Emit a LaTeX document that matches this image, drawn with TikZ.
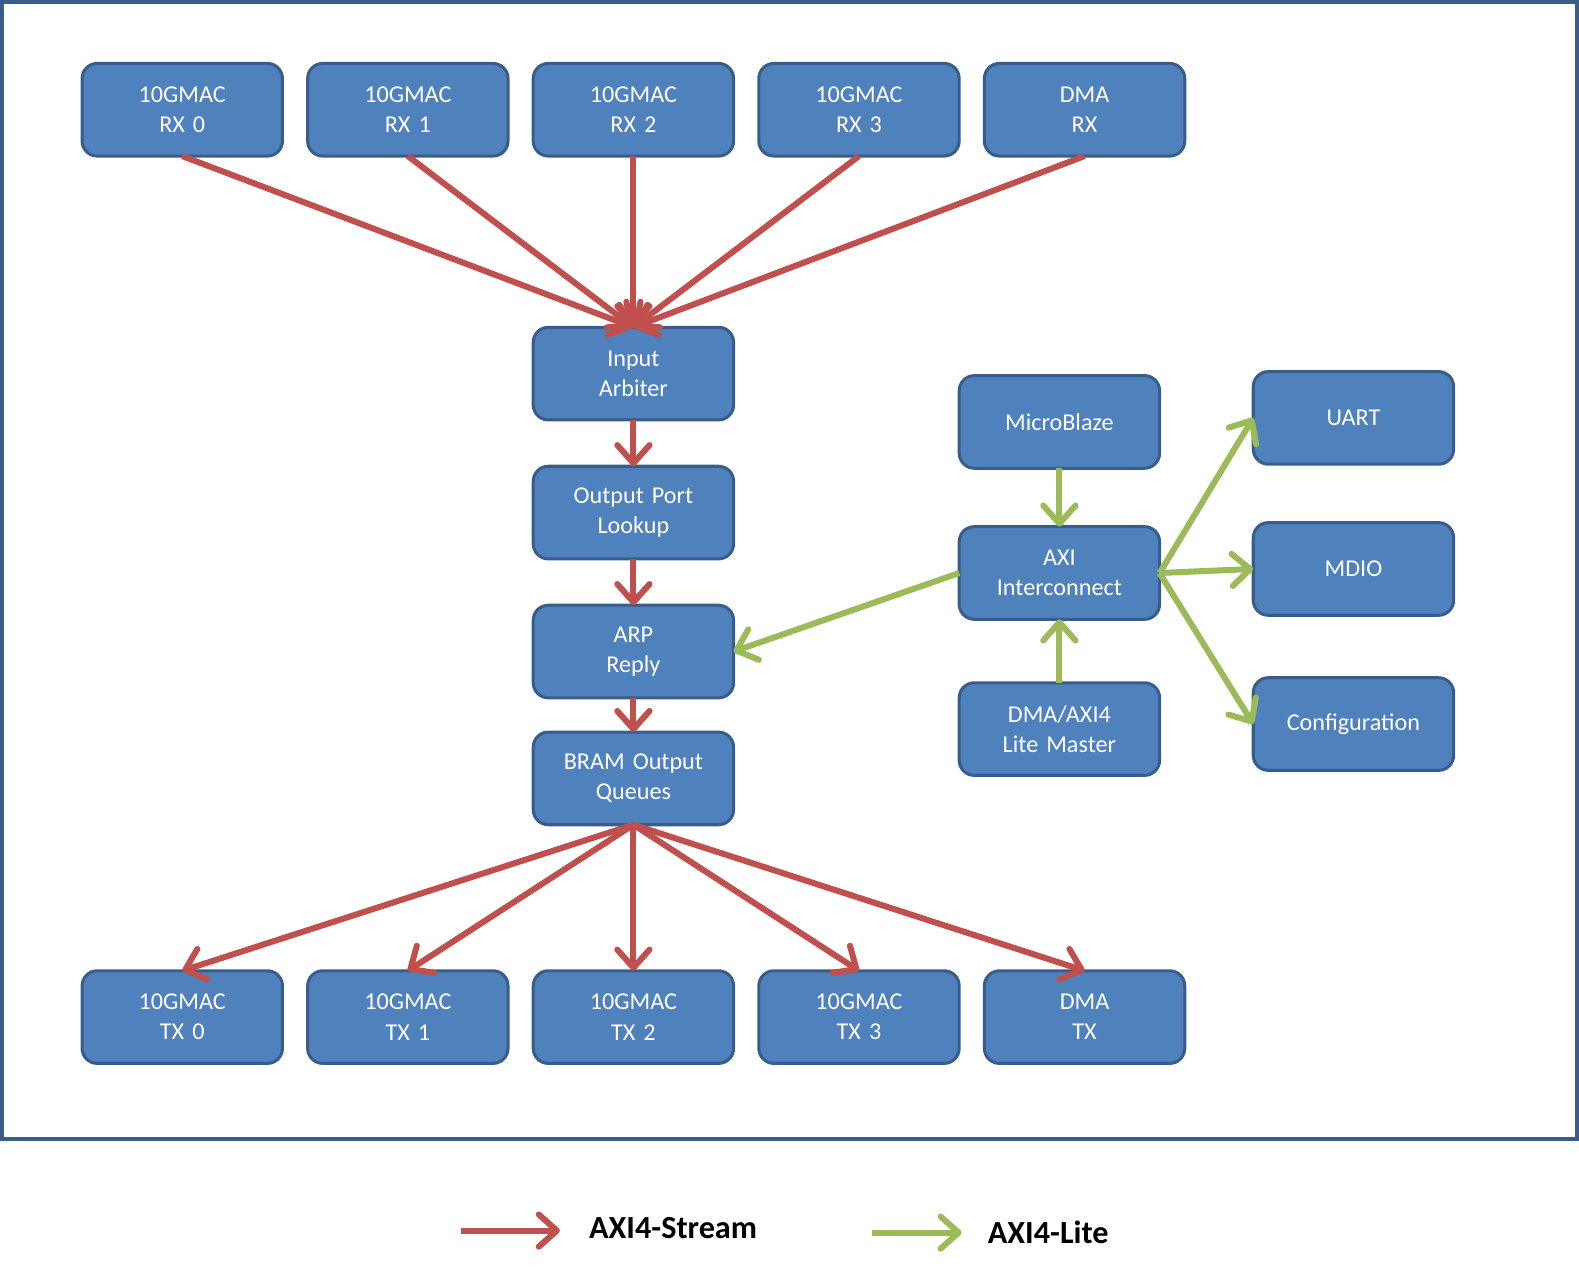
\documentclass[tikz,border=0pt]{standalone}
\usepackage{fontspec}
\setmainfont{Carlito}
\usetikzlibrary{arrows.meta, positioning}
\definecolor{boxfill}{RGB}{79, 129, 189}
\definecolor{boxline}{RGB}{56, 93, 138}
\definecolor{streamred}{RGB}{192, 80, 77}
\definecolor{litegreen}{RGB}{155, 187, 89}

\begin{document}
\begin{tikzpicture}[
    x=0.5pt, y=-0.5pt,
    node distance=12.5pt and 12.5pt,
    block/.style={rectangle, draw=boxline, fill=boxfill, line width=1.5pt, rounded corners=7.5pt, minimum width=99.5pt, minimum height=46pt, outer sep=0pt, inner xsep=4pt, text width=91.5pt, align=center, text=white, font=\fontsize{12}{15}\selectfont},
    legend/.style={font=\fontsize{16}{19}\selectfont\bfseries},
    stream/.style={-{Straight Barb[length=9pt, width=16pt, round]}, line width=3pt, draw=streamred},
    lite/.style={-{Straight Barb[length=9pt, width=16pt, round]}, line width=3pt, draw=litegreen}
]
\useasboundingbox (0,0) rectangle (1568,1263);

% Frame
\draw[boxline, line width=2pt] (2,2) rectangle (1566,1131);

% Receive side
\node[block] (rx0) at (181,109) {10GMAC\\RX 0};
\node[block, right=of rx0] (rx1) {10GMAC\\RX 1};
\node[block, right=of rx1] (rx2) {10GMAC\\RX 2};
\node[block, right=of rx2] (rx3) {10GMAC\\RX 3};
\node[block, right=of rx3] (dmarx) {DMA\\RX};

% Pipeline
\node[block, below=85pt of rx2] (arb) {Input\\Arbiter};
\node[block, below=23pt of arb] (lookup) {Output Port\\Lookup};
\node[block, below=23pt of lookup] (arp) {ARP\\Reply};
\node[block, below=17pt of arp] (bram) {BRAM Output\\Queues};

% Transmit side
\node[block, below=72.5pt of bram] (tx2) {10GMAC\\TX 2};
\node[block, left=of tx2] (tx1) {10GMAC\\TX 1};
\node[block, left=of tx1] (tx0) {10GMAC\\TX 0};
\node[block, right=of tx2] (tx3) {10GMAC\\TX 3};
\node[block, right=of tx3] (dmatx) {DMA\\TX};

% Control
\node[block] (mb) at (1052,419) {MicroBlaze};
\node[block, below=29pt of mb] (axi) {AXI\\Interconnect};
\node[block, below=31.5pt of axi] (master) {DMA/AXI4\\Lite Master};

% Peripherals
\node[block] (uart) at (1344,415) {UART};
\node[block, below=29pt of uart] (mdio) {MDIO};
\node[block, below=31pt of mdio] (config) {Configuration};

% Stream arrows
\foreach \src in {rx0, rx1, rx2, rx3, dmarx}
    \draw[stream] (\src.south) -- (arb.north);
\draw[stream] (arb) -- (lookup);
\draw[stream] (lookup) -- (arp);
\draw[stream] (arp) -- (bram);
\foreach \dst in {tx0, tx1, tx2, tx3, dmatx}
    \draw[stream] (bram.south) -- (\dst.north);

% Lite arrows
\draw[lite] (mb) -- (axi);
\draw[lite] (master) -- (axi);
\draw[lite] (axi.west) -- (arp.east);
\draw[lite] (axi.east) -- (uart.west);
\draw[lite] (axi.east) -- (mdio.west);
\draw[lite] (axi.east) -- (config.west);

% Legend
\coordinate (streamA) at (458,1222);
\coordinate (streamB) at (556,1222);
\coordinate (liteA) at (866,1224);
\coordinate (liteB) at (955,1224);
\draw[stream] (streamA) -- (streamB);
\node[legend, anchor=west] (streamlbl) at (578,1219) {AXI4-Stream};
\draw[lite] (liteA) -- (liteB);
\node[legend, anchor=west] (litelbl) at (974,1224) {AXI4-Lite};

\end{tikzpicture}
\end{document}
